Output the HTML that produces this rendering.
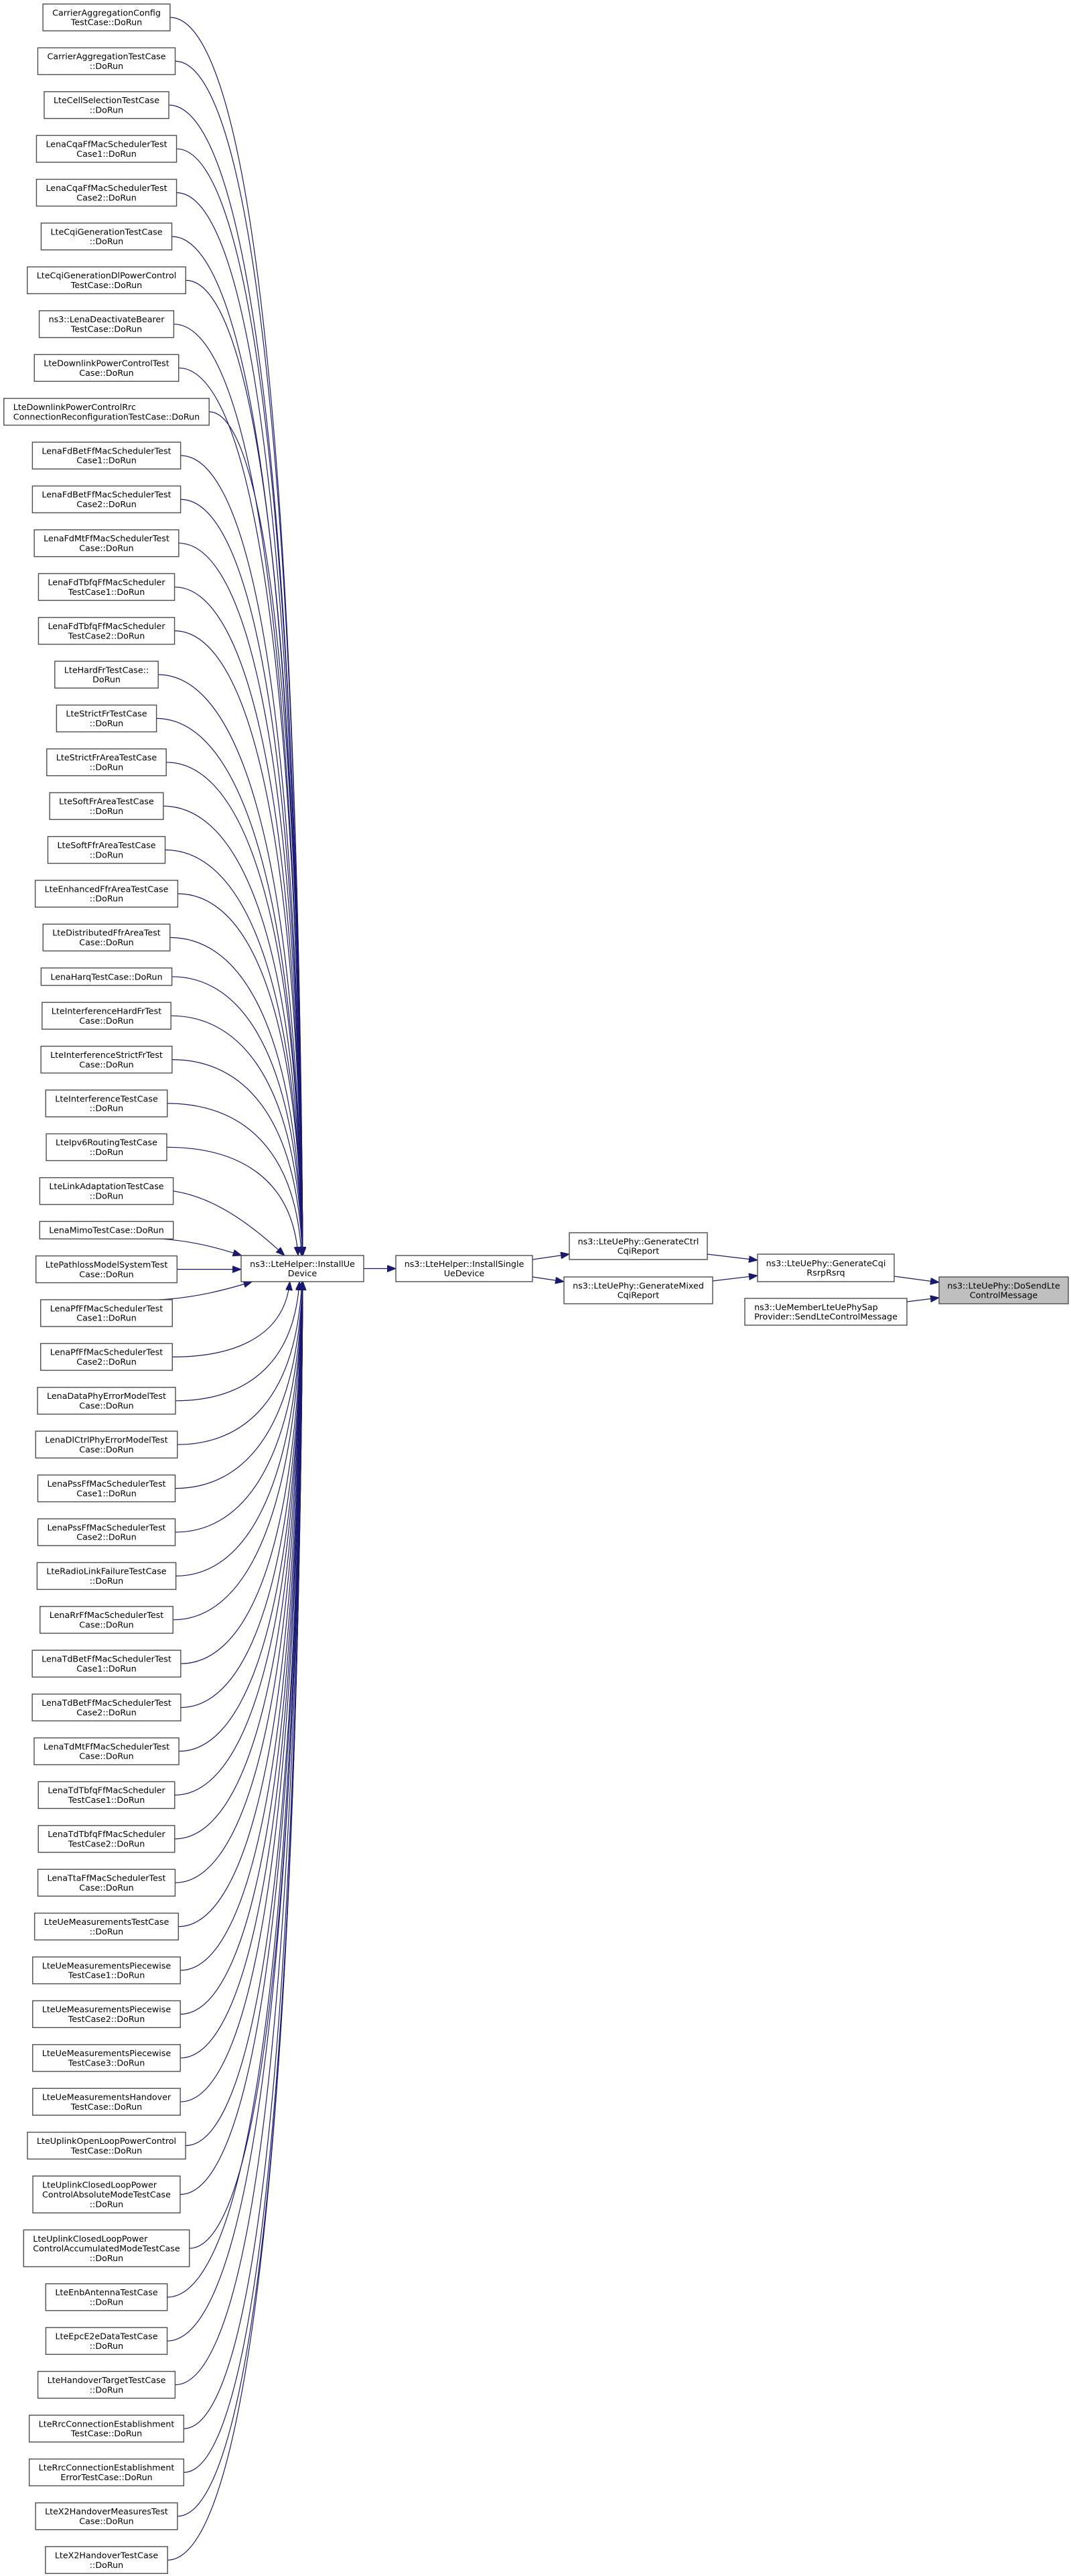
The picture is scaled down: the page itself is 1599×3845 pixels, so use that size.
<!DOCTYPE html>
<html><head><meta charset="utf-8"><style>
html,body{margin:0;padding:0;background:#fff;}
svg{display:block;}
text{font-family:"DejaVu Sans","Liberation Sans",sans-serif;font-size:12.7px;fill:#000;}
</style></head><body>
<svg id="s" width="1599" height="3845" viewBox="0 0 1599 3845" xmlns="http://www.w3.org/2000/svg">
<defs><marker id="a" markerUnits="userSpaceOnUse" markerWidth="14" markerHeight="11" refX="13" refY="5" orient="auto"><path d="M0,0 L13,5 L0,10 z" fill="#191970" stroke="#191970"/></marker></defs>
<g id="edges" fill="none" stroke="#191970" stroke-width="1.2"></g>
<g id="nodes"></g>
</svg>
<script>
(function(){
var L=[
[["CarrierAggregationConfig","TestCase::DoRun"]],
[["CarrierAggregationTestCase","::DoRun"]],
[["LteCellSelectionTestCase","::DoRun"]],
[["LenaCqaFfMacSchedulerTest","Case1::DoRun"]],
[["LenaCqaFfMacSchedulerTest","Case2::DoRun"]],
[["LteCqiGenerationTestCase","::DoRun"]],
[["LteCqiGenerationDlPowerControl","TestCase::DoRun"]],
[["ns3::LenaDeactivateBearer","TestCase::DoRun"]],
[["LteDownlinkPowerControlTest","Case::DoRun"]],
[["LteDownlinkPowerControlRrc","ConnectionReconfigurationTestCase::DoRun"],"ll"],
[["LenaFdBetFfMacSchedulerTest","Case1::DoRun"]],
[["LenaFdBetFfMacSchedulerTest","Case2::DoRun"]],
[["LenaFdMtFfMacSchedulerTest","Case::DoRun"]],
[["LenaFdTbfqFfMacScheduler","TestCase1::DoRun"]],
[["LenaFdTbfqFfMacScheduler","TestCase2::DoRun"]],
[["LteHardFrTestCase::","DoRun"]],
[["LteStrictFrTestCase","::DoRun"]],
[["LteStrictFrAreaTestCase","::DoRun"]],
[["LteSoftFrAreaTestCase","::DoRun"]],
[["LteSoftFfrAreaTestCase","::DoRun"]],
[["LteEnhancedFfrAreaTestCase","::DoRun"]],
[["LteDistributedFfrAreaTest","Case::DoRun"]],
[["LenaHarqTestCase::DoRun"]],
[["LteInterferenceHardFrTest","Case::DoRun"]],
[["LteInterferenceStrictFrTest","Case::DoRun"]],
[["LteInterferenceTestCase","::DoRun"]],
[["LteIpv6RoutingTestCase","::DoRun"]],
[["LteLinkAdaptationTestCase","::DoRun"]],
[["LenaMimoTestCase::DoRun"]],
[["LtePathlossModelSystemTest","Case::DoRun"]],
[["LenaPfFfMacSchedulerTest","Case1::DoRun"]],
[["LenaPfFfMacSchedulerTest","Case2::DoRun"]],
[["LenaDataPhyErrorModelTest","Case::DoRun"]],
[["LenaDlCtrlPhyErrorModelTest","Case::DoRun"]],
[["LenaPssFfMacSchedulerTest","Case1::DoRun"]],
[["LenaPssFfMacSchedulerTest","Case2::DoRun"]],
[["LteRadioLinkFailureTestCase","::DoRun"]],
[["LenaRrFfMacSchedulerTest","Case::DoRun"]],
[["LenaTdBetFfMacSchedulerTest","Case1::DoRun"]],
[["LenaTdBetFfMacSchedulerTest","Case2::DoRun"]],
[["LenaTdMtFfMacSchedulerTest","Case::DoRun"]],
[["LenaTdTbfqFfMacScheduler","TestCase1::DoRun"]],
[["LenaTdTbfqFfMacScheduler","TestCase2::DoRun"]],
[["LenaTtaFfMacSchedulerTest","Case::DoRun"]],
[["LteUeMeasurementsTestCase","::DoRun"]],
[["LteUeMeasurementsPiecewise","TestCase1::DoRun"]],
[["LteUeMeasurementsPiecewise","TestCase2::DoRun"]],
[["LteUeMeasurementsPiecewise","TestCase3::DoRun"]],
[["LteUeMeasurementsHandover","TestCase::DoRun"]],
[["LteUplinkOpenLoopPowerControl","TestCase::DoRun"]],
[["LteUplinkClosedLoopPower","ControlAbsoluteModeTestCase","::DoRun"],"llc"],
[["LteUplinkClosedLoopPower","ControlAccumulatedModeTestCase","::DoRun"],"llc"],
[["LteEnbAntennaTestCase","::DoRun"]],
[["LteEpcE2eDataTestCase","::DoRun"]],
[["LteHandoverTargetTestCase","::DoRun"]],
[["LteRrcConnectionEstablishment","TestCase::DoRun"]],
[["LteRrcConnectionEstablishment","ErrorTestCase::DoRun"]],
[["LteX2HandoverMeasuresTest","Case::DoRun"]],
[["LteX2HandoverTestCase","::DoRun"]]
];
var NS="http://www.w3.org/2000/svg";
var nodes=document.getElementById("nodes"),edges=document.getElementById("edges");
function el(n,a,p){var e=document.createElementNS(NS,n);for(var k in a)e.setAttribute(k,a[k]);p.appendChild(e);return e;}
var meas=el("text",{x:0,y:-100},nodes);
function tw(s){meas.textContent=s;return meas.getComputedTextLength();}
function box(lines,align,x0,x1,y0,y1,fill){
  el("rect",{x:x0,y:y0,width:x1-x0,height:y1-y0,fill:fill||"#fff",stroke:"#4d4d4d","stroke-width":1.4},nodes);
  var cy=(y0+y1)/2,n=lines.length,cx=(x0+x1)/2;
  var mw=0;lines.forEach(function(s){mw=Math.max(mw,tw(s));});
  lines.forEach(function(s,i){
    var y=cy+(i-(n-1)/2)*14.4+4.5;var a=align?align[i]:"c";
    var t;
    if(a=="l")t=el("text",{x:cx-mw/2,y:y},nodes);
    else t=el("text",{x:cx,y:y,"text-anchor":"middle"},nodes);
    t.textContent=s;
  });
}
var curY=6,CX=159;
var T={x0:360,x1:543,y0:1874,y1:1913};
L.forEach(function(it){
  var lines=it[0],n=lines.length;var h=n==1?26:(n==2?40:55);
  var mw=0;lines.forEach(function(s){mw=Math.max(mw,tw(s));});
  var w=mw+28,x0=CX-w/2,x1=CX+w/2,y0=curY,y1=curY+h,cy=curY+h/2;
  box(lines,it[1],x0,x1,y0,y1);
  var d=cy-1893.5;
  var p;
  if(Math.abs(d)<15){
    p="M"+x1+","+cy+" L"+T.x0+","+cy;
  } else {
    var ad=Math.abs(d);
    var ex=452-92*Math.exp(-(ad-57)/48);
    var ey=d<0?T.y0:T.y1;
    var sx=x1,sy=cy;
    if(ad<70){sx=x1-20;sy=d<0?y1:y0;}
    var p1x=sx+(ex-sx)*0.45,p1y=sy;
    var p2x=ex-(ex-sx)*0.05,p2y=sy+(ey-sy)*0.2;
    if(ad<130){p1x=sx+(ex-sx)*0.4;p1y=sy+(ey-sy)*0.1;p2x=ex-(ex-sx)*0.25;p2y=sy+(ey-sy)*0.6;}
    p="M"+sx+","+sy+" C"+p1x+","+p1y+" "+p2x+","+p2y+" "+ex+","+ey;
  }
  el("path",{d:p,"marker-end":"url(#a)"},edges);
  curY=y1+25.4;
});
box(["ns3::LteHelper::InstallUe","Device"],null,360,543,1874,1913);
box(["ns3::LteHelper::InstallSingle","UeDevice"],null,591,795,1874,1913);
box(["ns3::LteUePhy::GenerateCtrl","CqiReport"],null,850,1056,1840,1880);
box(["ns3::LteUePhy::GenerateMixed","CqiReport"],null,842,1064,1906,1946);
box(["ns3::LteUePhy::GenerateCqi","RsrpRsrq"],null,1131,1335,1872,1913);
box(["ns3::LteUePhy::DoSendLte","ControlMessage"],null,1402,1595,1906,1946,"#bfbfbf");
box(["ns3::UeMemberLteUePhySap","Provider::SendLteControlMessage"],"ll",1112,1354,1938,1978);
["M543,1893.5 L591,1893.5","M795,1880 L850,1872","M795,1906 L842,1913","M1056,1872 L1131,1881","M1064,1912 L1131,1904","M1335,1905 L1402,1914","M1354,1943 L1402,1937"].forEach(function(q){el("path",{d:q,"marker-end":"url(#a)"},edges);});
meas.parentNode.removeChild(meas);
})();
</script>
</body></html>
